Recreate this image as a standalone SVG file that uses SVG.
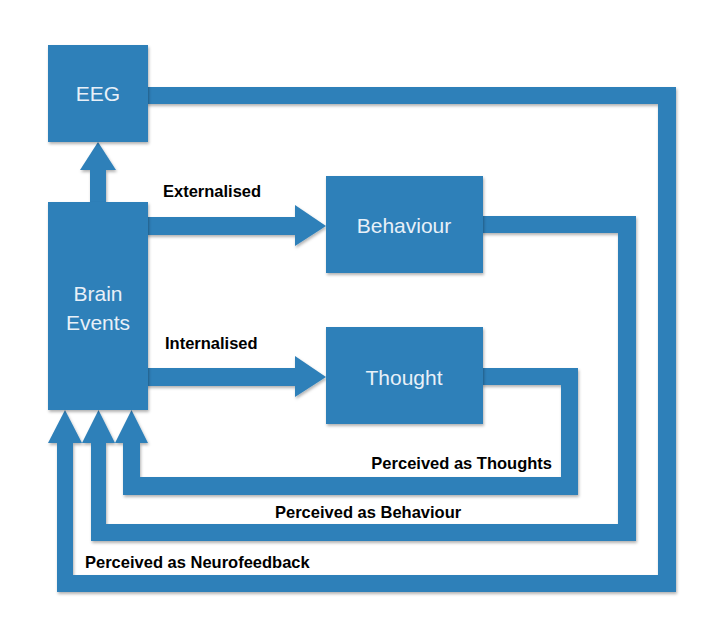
<svg xmlns="http://www.w3.org/2000/svg" width="708" height="631" viewBox="0 0 708 631">
<defs>
<filter id="sh" x="-10%" y="-10%" width="130%" height="130%"><feDropShadow dx="1" dy="2" stdDeviation="1.5" flood-color="#000" flood-opacity="0.3"/></filter>
</defs>
<style>
.b{fill:#2f80b9}
.n{font-family:"Liberation Sans",Arial,sans-serif;font-size:21px;fill:#e8f0f8;text-anchor:middle}
.l{font-family:"Liberation Sans",Arial,sans-serif;font-size:16.5px;font-weight:bold;fill:#000}
</style>
<rect width="708" height="631" fill="#fff"/>
<g id="connectors" class="b" filter="url(#sh)">
<!-- EEG loop -->
<rect x="146" y="87" width="530" height="17"/>
<rect x="658" y="87" width="18" height="505"/>
<rect x="57" y="575" width="619" height="17"/>
<rect x="57" y="440" width="16" height="152"/>
<polygon points="48,443 65,410 82,443"/>
<!-- Behaviour loop -->
<rect x="481" y="216" width="155" height="17"/>
<rect x="618" y="216" width="18" height="325"/>
<rect x="91" y="524" width="545" height="17"/>
<rect x="91" y="440" width="15" height="101"/>
<polygon points="82,443 98.5,410 115,443"/>
<!-- Thought loop -->
<rect x="481" y="368" width="97" height="17"/>
<rect x="561" y="368" width="17" height="127"/>
<rect x="123" y="477" width="455" height="18"/>
<rect x="123" y="440" width="17" height="55"/>
<polygon points="115,443 131.5,410 148,443"/>
<!-- up to EEG -->
<rect x="90" y="168" width="16" height="36"/>
<polygon points="80,170 98,142 116,170"/>
<!-- Externalised -->
<rect x="146" y="217" width="152" height="18"/>
<polygon points="295,205 326,226 295,246"/>
<!-- Internalised -->
<rect x="146" y="368" width="152" height="18"/>
<polygon points="295,356 326,377 295,397"/>
</g>
<g id="eeg"><rect class="b" filter="url(#sh)" x="48" y="45" width="100" height="97"/><text class="n" x="98" y="101">EEG</text></g>
<g id="brain"><rect class="b" filter="url(#sh)" x="48" y="202" width="100" height="208"/><text class="n" x="98" y="301">Brain</text><text class="n" x="98" y="330">Events</text></g>
<g id="behaviour"><rect class="b" filter="url(#sh)" x="326" y="176" width="157" height="97"/><text class="n" x="404" y="233">Behaviour</text></g>
<g id="thought"><rect class="b" filter="url(#sh)" x="326" y="327" width="157" height="97"/><text class="n" x="404" y="385">Thought</text></g>
<g id="labels">
<text class="l" x="163" y="197">Externalised</text>
<text class="l" x="165" y="349">Internalised</text>
<text class="l" x="552" y="469" text-anchor="end">Perceived as Thoughts</text>
<text class="l" x="275" y="518">Perceived as Behaviour</text>
<text class="l" x="85" y="568">Perceived as Neurofeedback</text>
</g>
</svg>
